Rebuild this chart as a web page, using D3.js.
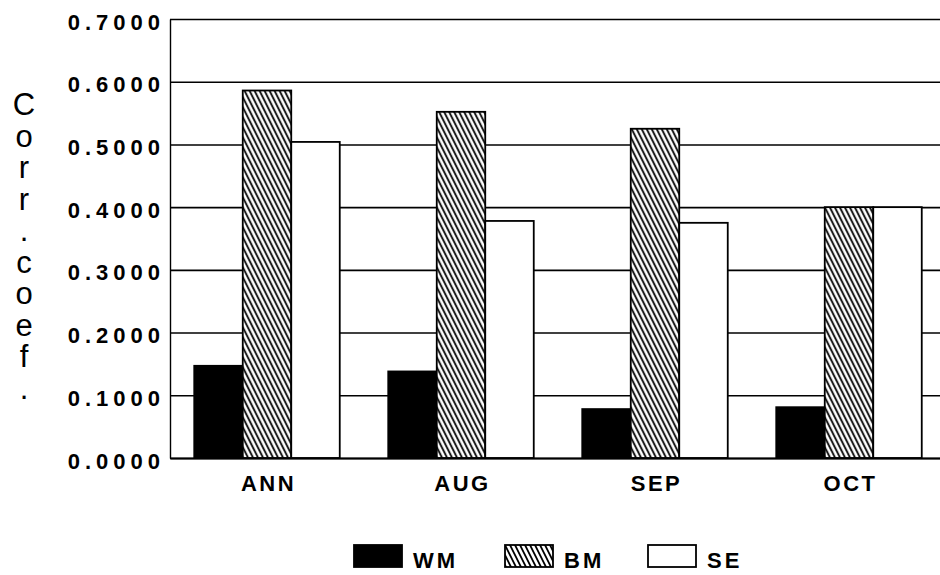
<!DOCTYPE html>
<html>
<head>
<meta charset="utf-8">
<script src="https://cdn.jsdelivr.net/npm/d3@7"></script>
<style>
	body { margin: 0; background: #fff; }
	svg { display: block; font-family: "Liberation Sans", Arial, sans-serif; }
	.tick text { font-size: 22px; font-weight: bold; fill: #000; }
	.ylabel { font-size: 31px; writing-mode: vertical-rl; text-orientation: upright; letter-spacing: -3.5px; }
	.legend text { font-size: 22px; font-weight: bold; }
</style>
</head>
<body>
<svg></svg>
<script>
// values
const months = ["ANN", "AUG", "SEP", "OCT"]
const seriesNames = ["WM", "BM", "SE"]
const wmValues = [0.147, 0.138, 0.078, 0.081]
const bmValues = [0.586, 0.552, 0.525, 0.4]
const seValues = [0.504, 0.378, 0.375, 0.4]
const yTicks = [0, 0.1, 0.2, 0.3, 0.4, 0.5, 0.6, 0.7]
const yTitle = "Corr.coef."

const seriesValues = [wmValues, bmValues, seValues]
const fills = ["#000", "url(#hatch)", "#fff"]

const svg = d3.select("svg").attr("width", 940).attr("height", 575)

const plotLeft = 170
const plotTop = 19
const plotBottom = 458
const plotRight = 946 // plot runs off the right edge of the scan

// diagonal hatch for BM
const pat = svg
	.append("defs")
	.append("pattern")
	.attr("id", "hatch")
	.attr("patternUnits", "userSpaceOnUse")
	.attr("width", 5)
	.attr("height", 10)
pat.append("rect").attr("width", 5).attr("height", 10).attr("fill", "#fff")
pat
	.append("path")
	.attr("d", "M-2.5,-5 L7.5,15 M-7.5,-5 L2.5,15 M2.5,-5 L12.5,15")
	.attr("stroke", "#000")
	.attr("stroke-width", 1.8)

const x0 = d3
	.scaleBand()
	.domain(months)
	.range([plotLeft, plotRight])
	.paddingInner(0.25)
	.paddingOuter(0.125)

const x1 = d3.scaleBand().domain(seriesNames).range([0, x0.bandwidth()])

const y = d3.scaleLinear().domain([0, 0.7]).range([plotBottom, plotTop])

// y axis + gridlines
const yAxis = svg
	.append("g")
	.attr("transform", `translate(${plotLeft},0)`)
	.call(
		d3
			.axisLeft(y)
			.tickValues(yTicks)
			.tickFormat(d3.format(".4f"))
			.tickSize(-(plotRight - plotLeft))
			.tickSizeOuter(0)
			.tickPadding(9)
	)
yAxis.selectAll("line").attr("stroke", "#000").attr("stroke-width", 1.6)
yAxis.select(".domain").attr("stroke", "#000").attr("stroke-width", 1.4)
yAxis
	.selectAll("text")
	.attr("dy", 10)
	.attr("dx", 4)
	.style("letter-spacing", "5px")

// bars
const groups = svg
	.selectAll("g.month")
	.data(months)
	.enter()
	.append("g")
	.attr("class", "month")
	.attr("transform", (d, i) => {
		return `translate(${x0(d)},0)`
	})

groups
	.selectAll("rect")
	.data((d, i) => {
		return seriesNames.map((s, j) => {
			return { series: s, value: seriesValues[j][i], k: j }
		})
	})
	.enter()
	.append("rect")
	.attr("x", (d) => {
		return x1(d.series)
	})
	.attr("y", (d) => {
		return y(d.value)
	})
	.attr("width", x1.bandwidth())
	.attr("height", (d) => {
		return plotBottom - y(d.value)
	})
	.attr("fill", (d) => {
		return fills[d.k]
	})
	.attr("stroke", "#000")
	.attr("stroke-width", 1.8)

// x axis baseline + labels
const xAxis = svg
	.append("g")
	.attr("transform", `translate(0,${plotBottom})`)
	.call(d3.axisBottom(x0).tickSize(0).tickSizeOuter(0).tickPadding(17))
xAxis.select(".domain").attr("stroke", "#000").attr("stroke-width", 1.8)
xAxis
	.selectAll("text")
	.style("letter-spacing", "2.5px")
	.attr("dx", 1.5)

// vertical stacked y title (upright letters)
svg
	.append("text")
	.attr("class", "ylabel")
	.attr("x", 24)
	.attr("y", 87)
	.text(yTitle)

// legend
const legendX = [354, 505, 648]
const legend = svg
	.append("g")
	.attr("class", "legend")
	.selectAll("g")
	.data(seriesNames)
	.enter()
	.append("g")
	.attr("transform", (d, i) => {
		return `translate(${legendX[i]},545)`
	})

legend
	.append("rect")
	.attr("width", 48)
	.attr("height", 22)
	.attr("fill", (d, i) => {
		return fills[i]
	})
	.attr("stroke", "#000")
	.attr("stroke-width", 1.8)

legend
	.append("text")
	.attr("x", 59)
	.attr("y", 23)
	.style("letter-spacing", "3px")
	.text((d) => {
		return d
	})
</script>
</body>
</html>
